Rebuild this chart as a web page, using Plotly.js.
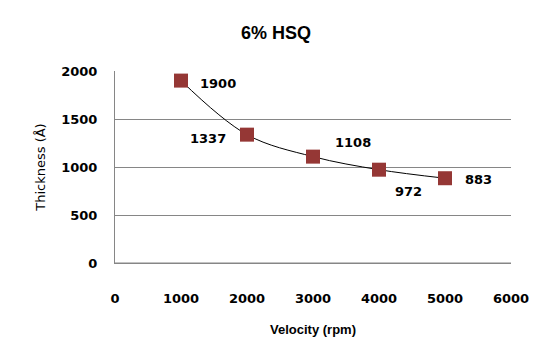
<!DOCTYPE html>
<html><head><meta charset="utf-8">
<script src="https://cdn.plot.ly/plotly-3.0.1.min.js"></script>
<style>html,body{margin:0;padding:0;background:#fff}#c{width:552px;height:364px}</style>
</head><body><div id="c"></div>
<script>
const velocity = [1000, 2000, 3000, 4000, 5000];
const thickness = [1900, 1337, 1108, 972, 883];
const labelOffsetX = [37, -39, 40, 29, 33];
const labelOffsetY = [3, 4, -14, 22, 1];

const tickFont = {family: 'DejaVu Sans, Verdana, sans-serif', size: 13, color: '#000', weight: 'bold'};

const traces = [
  {x: velocity, y: thickness, mode: 'lines', line: {color: '#000', width: 1, shape: 'spline', smoothing: 1}, hoverinfo: 'skip', showlegend: false},
  {x: velocity, y: thickness, mode: 'markers', marker: {symbol: 'square', size: 14, color: '#953735', line: {width: 0}}, showlegend: false}
];

const annotations = velocity.map((v, i) => ({
  x: v, y: thickness[i], xref: 'x', yref: 'y', text: String(thickness[i]),
  showarrow: true, arrowcolor: 'rgba(0,0,0,0)', ax: labelOffsetX[i], ay: labelOffsetY[i],
  font: tickFont
}));

const layout = {
  width: 552, height: 364,
  margin: {l: 115, r: 41, t: 71, b: 101},
  paper_bgcolor: '#fff', plot_bgcolor: '#fff',
  title: {text: '6% HSQ', x: 0.5, xanchor: 'center', y: 0.91, yanchor: 'middle',
    font: {family: 'Liberation Sans, Arial, sans-serif', size: 18, weight: 'bold', color: '#000'}},
  xaxis: {range: [0, 6000], dtick: 1000, tick0: 0, showgrid: false, zeroline: false,
    showline: true, linecolor: '#868686', linewidth: 1, ticks: '', ticklabelstandoff: 23,
    tickfont: tickFont,
    title: {text: 'Velocity (rpm)', standoff: 20, font: {family: 'Liberation Sans, Arial, sans-serif', size: 13, weight: 'bold', color: '#000'}}},
  yaxis: {range: [0, 2000], dtick: 500, tick0: 0, showgrid: true, gridcolor: '#868686', gridwidth: 1,
    zeroline: false, showline: true, linecolor: '#868686', linewidth: 1, ticks: '', ticklabelstandoff: 14,
    tickfont: tickFont,
    title: {text: 'Thickness (Å)', standoff: 12, font: {family: 'DejaVu Sans, Verdana, sans-serif', size: 13, color: '#000'}}},
  annotations: annotations,
  shapes: [{type: 'line', xref: 'paper', yref: 'y', x0: 0, x1: 1, y0: 0, y1: 0, line: {color: '#868686', width: 1}}]
};

Plotly.newPlot('c', traces, layout, {displayModeBar: false, staticPlot: true});
</script></body></html>
